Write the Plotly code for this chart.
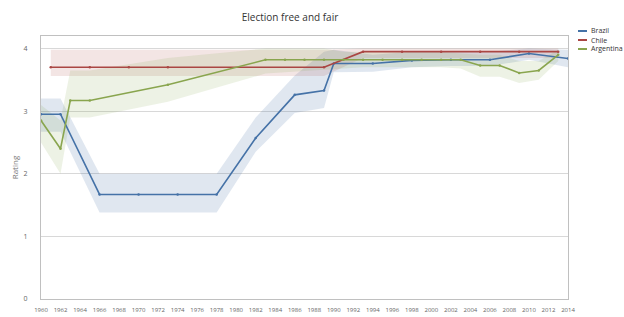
import plotly.graph_objects as go

# ---------------- data ----------------
brazil_years = [1960, 1962, 1966, 1970, 1974, 1978, 1982, 1986, 1989, 1990, 1994, 1998, 2002, 2006, 2010, 2014]
brazil_vals  = [2.95, 2.95, 1.67, 1.67, 1.67, 1.67, 2.57, 3.26, 3.33, 3.76, 3.76, 3.81, 3.82, 3.82, 3.92, 3.84]
brazil_low   = [2.67, 2.67, 1.38, 1.38, 1.38, 1.38, 2.35, 2.97, 3.05, 3.62, 3.63, 3.70, 3.72, 3.72, 3.82, 3.70]
brazil_high  = [3.20, 3.20, 2.00, 2.00, 2.00, 2.00, 2.90, 3.57, 3.95, 3.98, 3.90, 3.95, 3.95, 3.95, 4.00, 3.98]

chile_years = [1961, 1965, 1969, 1973, 1989, 1993, 1997, 2001, 2005, 2009, 2013]
chile_vals  = [3.70, 3.70, 3.70, 3.70, 3.70, 3.95, 3.95, 3.95, 3.95, 3.95, 3.95]
chile_low   = [3.56, 3.56, 3.56, 3.56, 3.56, 3.85, 3.85, 3.85, 3.85, 3.85, 3.85]
chile_high  = [3.98, 3.98, 3.98, 3.98, 3.98, 4.00, 4.00, 4.00, 4.00, 4.00, 4.00]

argentina_years = [1960, 1962, 1963, 1965, 1973, 1983, 1985, 1987, 1989, 1991, 1993, 1995, 1997, 1999, 2001, 2003, 2005, 2007, 2009, 2011, 2013]
argentina_vals  = [2.85, 2.40, 3.17, 3.17, 3.42, 3.82, 3.82, 3.82, 3.82, 3.82, 3.82, 3.82, 3.82, 3.82, 3.82, 3.82, 3.73, 3.73, 3.61, 3.65, 3.90]
argentina_low   = [2.50, 2.00, 2.90, 2.90, 3.15, 3.60, 3.62, 3.64, 3.66, 3.68, 3.70, 3.70, 3.70, 3.70, 3.70, 3.68, 3.55, 3.55, 3.45, 3.50, 3.80]
argentina_high  = [3.10, 2.85, 3.65, 3.65, 3.85, 4.00, 4.00, 4.00, 4.00, 3.95, 3.95, 3.95, 3.95, 3.95, 3.95, 3.92, 3.90, 3.90, 3.80, 3.80, 3.98]

series_names = ["Brazil", "Chile", "Argentina"]
line_colors = ["#4572A7", "#AA4643", "#89A54E"]
band_colors = ["rgba(69,114,167,0.17)", "rgba(170,70,67,0.14)", "rgba(137,165,78,0.15)"]

x_ticks = list(range(1960, 2015, 2))
y_ticks = [0, 1, 2, 3, 4]

series = [
    (brazil_years, brazil_vals, brazil_low, brazil_high),
    (chile_years, chile_vals, chile_low, chile_high),
    (argentina_years, argentina_vals, argentina_low, argentina_high),
]

fig = go.Figure()

# uncertainty bands
for (yrs, vals, lo, hi), bc in zip(series, band_colors):
    fig.add_trace(go.Scatter(x=yrs, y=lo, mode="lines", line=dict(width=0),
                             hoverinfo="skip", showlegend=False))
    fig.add_trace(go.Scatter(x=yrs, y=hi, mode="lines", line=dict(width=0),
                             fill="tonexty", fillcolor=bc,
                             hoverinfo="skip", showlegend=False))

# lines
for (yrs, vals, lo, hi), name, lc in zip(series, series_names, line_colors):
    fig.add_trace(go.Scatter(x=yrs, y=vals, mode="lines+markers", name=name,
                             line=dict(color=lc, width=1.6),
                             marker=dict(size=2.5, color=lc),
                             showlegend=False))

font_family = "Open Sans, DejaVu Sans, sans-serif"

# compact legend (top right)
legend_y = [31, 40, 49]
for name, lc, ly in zip(series_names, line_colors, legend_y):
    fig.add_shape(type="line", xref="paper", yref="paper",
                  x0=(578 - 41) / 527, x1=(587 - 41) / 527,
                  y0=(299 - ly) / 263, y1=(299 - ly) / 263,
                  line=dict(color=lc, width=2))
    fig.add_annotation(text=name, xref="paper", yref="paper",
                       x=(589 - 41) / 527, y=(299 - ly) / 263,
                       xanchor="left", yanchor="middle", showarrow=False,
                       font=dict(size=7, color="#333333", family=font_family))

fig.update_layout(
    width=624, height=317,
    margin=dict(l=41, r=56, t=36, b=18),
    paper_bgcolor="white", plot_bgcolor="white",
    title=dict(text="Election free and fair", x=290 / 624, xanchor="center",
               xref="container", y=1 - 17 / 317, yanchor="middle", yref="container",
               font=dict(size=10, color="#333333", family=font_family)),
    showlegend=False,
    font=dict(family=font_family),
)

fig.update_xaxes(range=[1960, 2014], tickmode="array", tickvals=x_ticks,
                 ticktext=[str(t) for t in x_ticks],
                 tickfont=dict(size=6, color="#666666"),
                 showgrid=False, zeroline=False, showline=True,
                 linecolor="#C0C0C0", linewidth=1, mirror=True, ticks="",
                 ticklabelstandoff=5, automargin=False)
fig.update_yaxes(range=[0, 4.2], tickmode="array", tickvals=y_ticks,
                 tickfont=dict(size=7, color="#666666"),
                 showgrid=True, gridcolor="#D8D8D8", gridwidth=1,
                 zeroline=False, showline=True, linecolor="#C0C0C0",
                 linewidth=1, mirror=True, ticks="", ticklabelstandoff=11,
                 automargin=False,
                 title=dict(text="Rating", font=dict(size=8, color="#777777"),
                            standoff=3))

fig.write_html("out.html", config={"displayModeBar": False},
               post_script="document.body.style.margin='0';document.body.style.overflow='hidden';")
